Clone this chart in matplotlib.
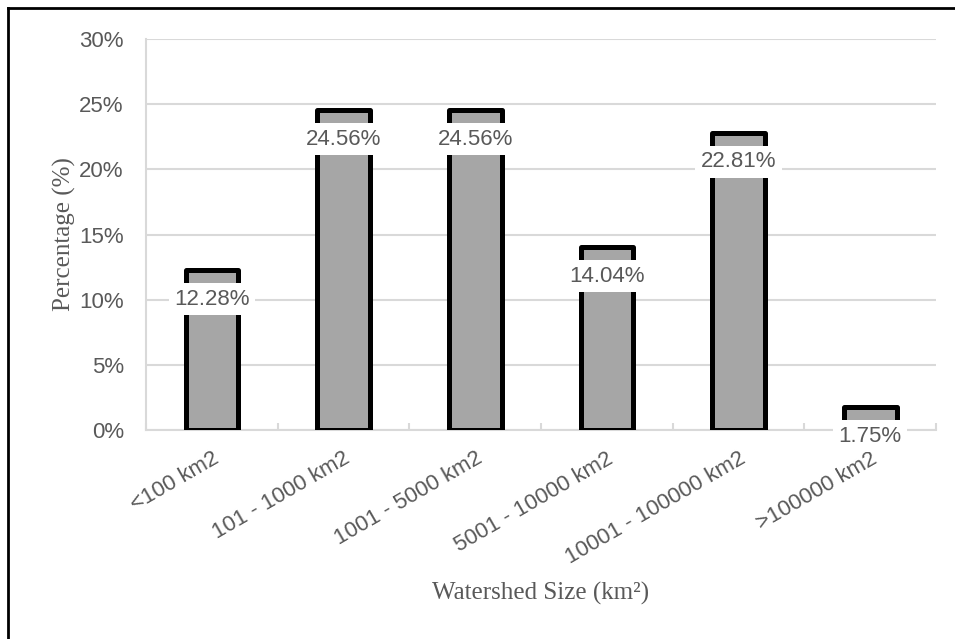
import numpy as np
import matplotlib.pyplot as plt
from matplotlib.lines import Line2D
from matplotlib.ticker import FuncFormatter

# watershed size classes and share of watersheds (%)
categories = ['<100 km2', '101 - 1000 km2', '1001 - 5000 km2',
              '5001 - 10000 km2', '10001 - 100000 km2', '>100000 km2']
percent = [12.28, 24.56, 24.56, 14.04, 22.81, 1.75]
y_ticks = [0, 5, 10, 15, 20, 25, 30]

W, H = 955, 639
fig = plt.figure(figsize=(W / 100, H / 100), dpi=100)
ax = fig.add_axes([146 / W, 1 - 430 / H, (936 - 146) / W, (430 - 39) / H])

grey_txt = '#595959'
grid_c = '#d9d9d9'
sans = ['Liberation Sans', 'DejaVu Sans']
serif = ['Liberation Serif', 'DejaVu Serif']

x = np.arange(len(categories))
ax.bar(x, percent, width=0.40, color='#a6a6a6', edgecolor='black',
       linewidth=3.6, joinstyle='round', zorder=3)

# value labels sit just under the top of each bar on a white box
for xi, v in zip(x, percent):
    ax.annotate('%.2f%%' % v, xy=(xi, v), xytext=(0, -21),
                textcoords='offset points', ha='center', va='center',
                fontsize=16, color=grey_txt, family=sans, zorder=5,
                bbox=dict(boxstyle='square,pad=0.25', fc='white', ec='none'))

ax.set_xlim(-0.5, len(categories) - 0.5)
ax.set_ylim(0, 30)
ax.set_yticks(y_ticks)
ax.yaxis.set_major_formatter(FuncFormatter(lambda v, p: '%d%%' % v))
ax.grid(axis='y', color=grid_c, linewidth=1.5, zorder=0)

ax.set_xticks(x)
ax.set_xticklabels(categories, rotation=30, ha='right', va='top',
                   rotation_mode='anchor')
ax.set_xticks(np.arange(len(categories) + 1) - 0.5, minor=True)
ax.tick_params(axis='x', which='major', length=0, pad=13)
ax.tick_params(axis='x', which='minor', direction='in', length=5,
               width=1.5, color=grid_c)
ax.tick_params(axis='y', length=0, pad=16)
for lab in ax.get_xticklabels() + ax.get_yticklabels():
    lab.set_fontsize(16)
    lab.set_color(grey_txt)
    lab.set_family(sans)

for s in ['top', 'right']:
    ax.spines[s].set_visible(False)
for s in ['left', 'bottom']:
    ax.spines[s].set_color(grid_c)
    ax.spines[s].set_linewidth(1.5)

ax.set_xlabel('Watershed Size (km²)', fontsize=18, color=grey_txt,
              family=serif, labelpad=10)
ax.set_ylabel('Percentage (%)', fontsize=18, color=grey_txt,
              family=serif, labelpad=2)

# frame lines along the top and left edge of the figure
fig.add_artist(Line2D([8 / W, 8 / W], [0, 1 - 8 / H], color='black', lw=2))
fig.add_artist(Line2D([8 / W, 1], [1 - 8 / H, 1 - 8 / H], color='black', lw=2))

fig.savefig('out.png', dpi=100)
